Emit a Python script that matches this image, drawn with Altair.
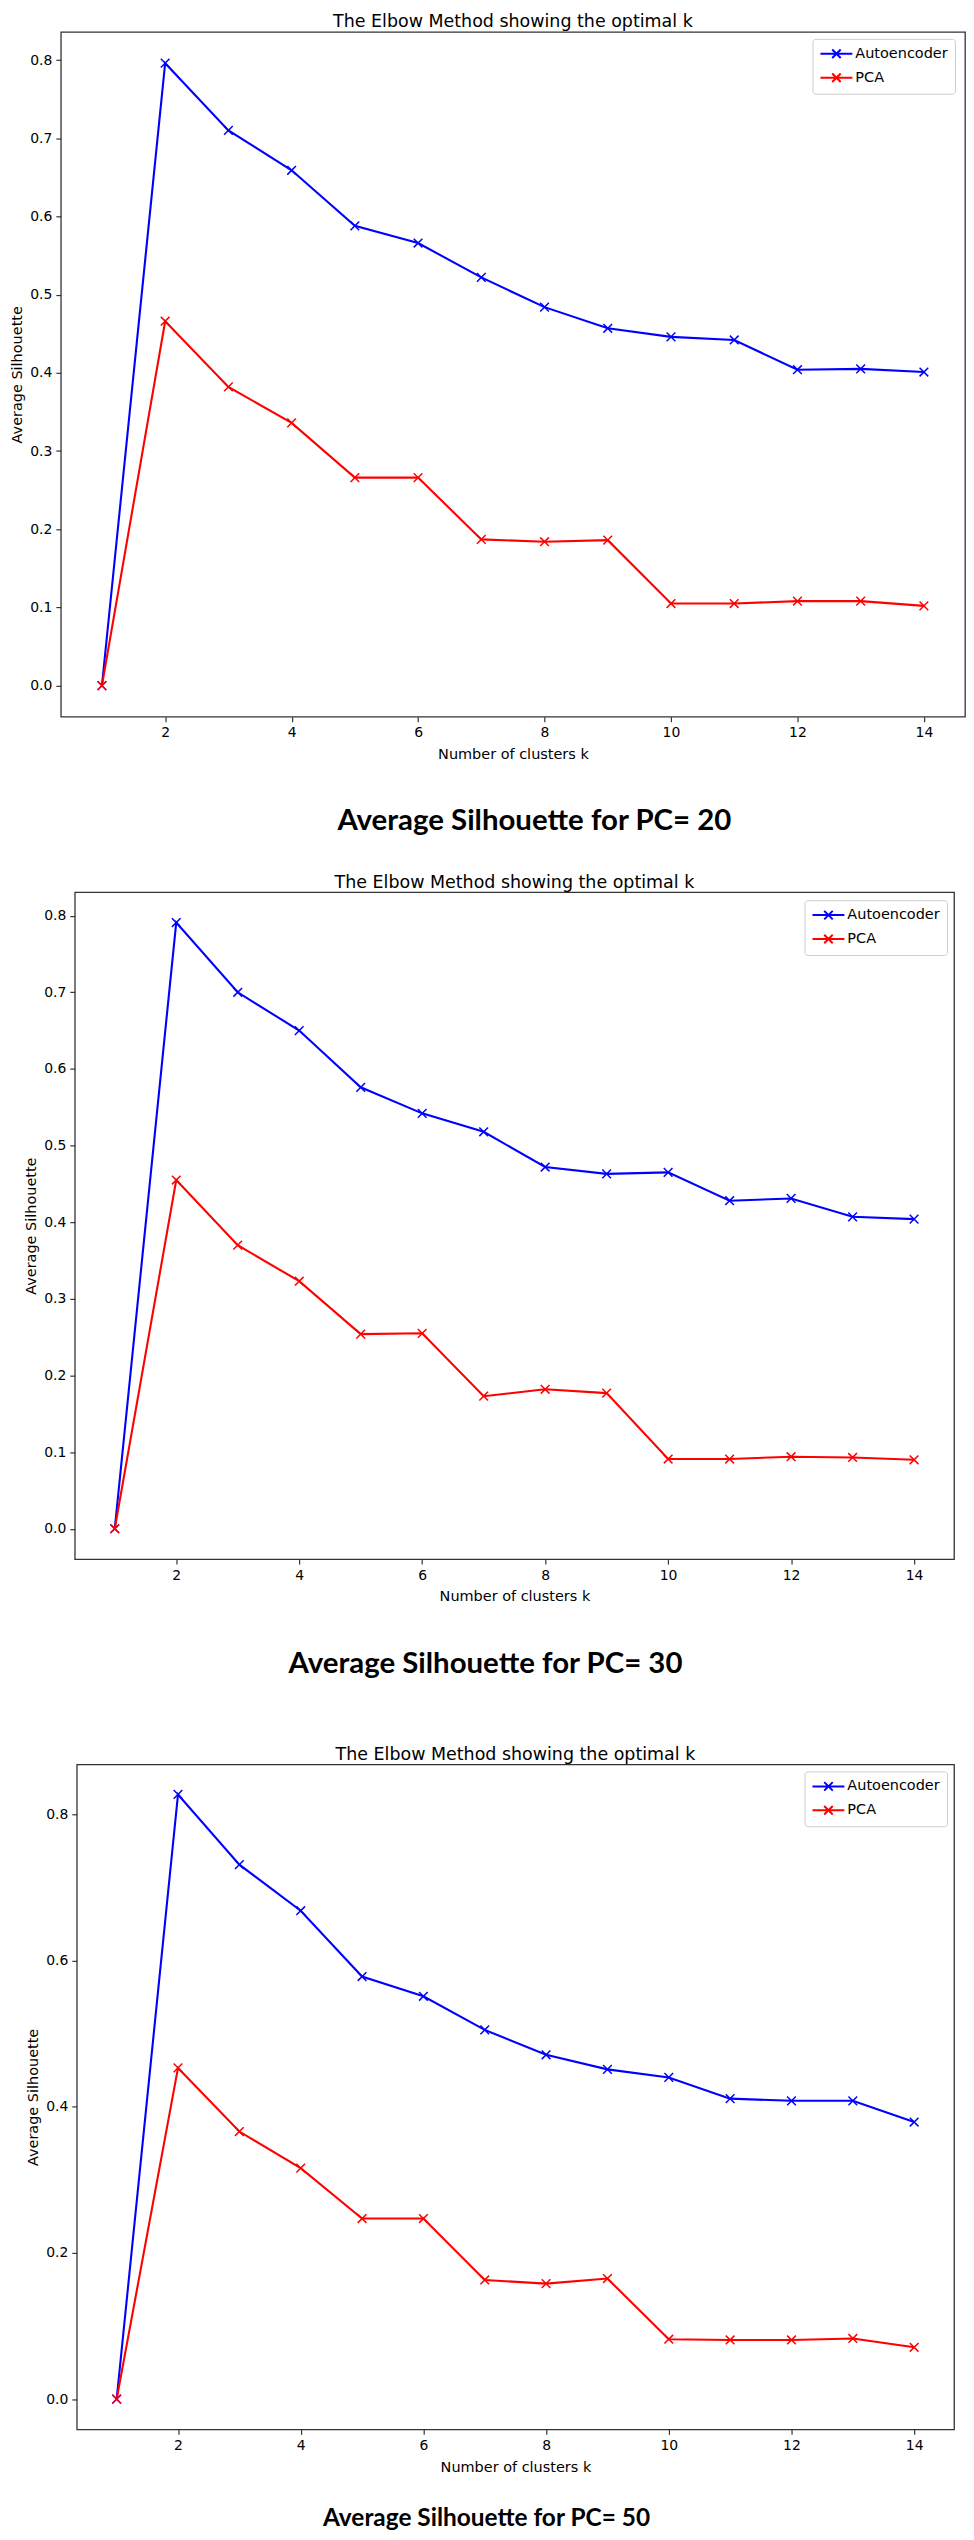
import altair as alt
import pandas as pd

K = list(range(1, 15))
SERIES = ["Autoencoder", "PCA"]
COLORS = ["#0000ff", "#ff0000"]
X_TICKS = [2, 4, 6, 8, 10, 12, 14]
Y_TICKS_01 = [0.0, 0.1, 0.2, 0.3, 0.4, 0.5, 0.6, 0.7, 0.8]
Y_TICKS_02 = [0.0, 0.2, 0.4, 0.6, 0.8]

AE_20 = [0.0, 0.796, 0.710, 0.659, 0.588, 0.566, 0.522, 0.484, 0.457, 0.446, 0.442, 0.404, 0.405, 0.401]
PCA_20 = [0.0, 0.466, 0.382, 0.336, 0.266, 0.266, 0.187, 0.184, 0.186, 0.105, 0.105, 0.108, 0.108, 0.102]
AE_30 = [0.0, 0.791, 0.700, 0.650, 0.576, 0.542, 0.518, 0.472, 0.463, 0.465, 0.428, 0.431, 0.407, 0.404]
PCA_30 = [0.0, 0.455, 0.370, 0.323, 0.254, 0.255, 0.173, 0.182, 0.177, 0.091, 0.091, 0.094, 0.093, 0.090]
AE_50 = [0.0, 0.827, 0.731, 0.668, 0.578, 0.551, 0.505, 0.471, 0.451, 0.440, 0.411, 0.408, 0.408, 0.379]
PCA_50 = [0.0, 0.453, 0.366, 0.316, 0.247, 0.247, 0.163, 0.158, 0.165, 0.082, 0.081, 0.081, 0.083, 0.071]

TITLE = "The Elbow Method showing the optimal k"
XTITLE = "Number of clusters k"
YTITLE = "Average Silhouette"
CAPTIONS = ["Average Silhouette for PC= 20", "Average Silhouette for PC= 30", "Average Silhouette for PC= 50"]

FONT = "DejaVu Sans"
X_MARK = "M-1,-1L1,1M-1,1L1,-1"
# legend glyph: a short line with an x marker in its middle
LEGEND_SYM = "M-1,0L3.57,0M0.68,-0.61L1.9,0.61M0.68,0.61L1.9,-0.61"


def panel(ae, pca, ymin, ymax, yticks, w, h, lx, ly):
    df = pd.DataFrame({
        "k": K + K,
        "score": ae + pca,
        "series": [SERIES[0]] * len(K) + [SERIES[1]] * len(K),
    })
    x = alt.X("k:Q", scale=alt.Scale(domain=[0.35, 14.65], nice=False, zero=False),
              axis=alt.Axis(values=X_TICKS, format="d", title=XTITLE))
    y = alt.Y("score:Q", scale=alt.Scale(domain=[ymin, ymax], nice=False, zero=False),
              axis=alt.Axis(values=yticks, format=".1f", title=YTITLE, titlePadding=5))
    color = alt.Color("series:N", scale=alt.Scale(domain=SERIES, range=COLORS),
                      legend=alt.Legend(title=None, orient="none", legendX=lx, legendY=ly,
                                        symbolType=LEGEND_SYM, symbolSize=196,
                                        symbolStrokeWidth=2, labelFont=FONT,
                                        labelFontSize=14.5, labelColor="black",
                                        labelOffset=20, fillColor="white",
                                        strokeColor="#cccccc", cornerRadius=3,
                                        padding=7, rowPadding=6))
    base = alt.Chart(df)
    lines = base.mark_line(strokeWidth=2.1).encode(x=x, y=y, color=color)
    pts = base.mark_point(shape=X_MARK, size=76, strokeWidth=1.5, filled=False,
                          opacity=1).encode(x=x, y=y, color=color)
    return alt.layer(lines, pts).properties(
        width=w, height=h,
        title=alt.TitleParams(TITLE, offset=1, anchor="middle"))


def spacer(w):
    return alt.Chart(pd.DataFrame({"s": [0]})).mark_point(size=1, opacity=0).encode(
        x=alt.value(0.5), y=alt.value(0.5)
    ).properties(width=w, height=1, view=alt.ViewBackground(strokeOpacity=0))


def caption(text, size, cx, cy, h):
    return alt.Chart(pd.DataFrame({"t": [text]})).mark_text(
        font="Lato", fontWeight="bold", fontSize=size, align="center",
        baseline="middle", color="black"
    ).encode(
        text="t:N", x=alt.value(cx), y=alt.value(cy)
    ).properties(width=900, height=h, view=alt.ViewBackground(strokeOpacity=0))


p1 = panel(AE_20, PCA_20, -0.0398, 0.836, Y_TICKS_01, 907, 687, 754, 7)
p2 = panel(AE_30, PCA_30, -0.0396, 0.8306, Y_TICKS_01, 882, 669, 732, 8)
p3 = panel(AE_50, PCA_50, -0.0413, 0.868, Y_TICKS_02, 880, 667, 730, 7)

INDEP = dict(color="independent", x="independent", y="independent")
row1 = alt.hconcat(spacer(1), p1, spacing=0).resolve_scale(**INDEP)
row2 = alt.hconcat(spacer(15), p2, spacing=0).resolve_scale(**INDEP)
row3 = alt.hconcat(spacer(17), p3, spacing=0).resolve_scale(**INDEP)

c1 = caption(CAPTIONS[0], 29.5, 528, 59, 110)
c2 = caption(CAPTIONS[1], 29.5, 479, 59, 140)
c3 = caption(CAPTIONS[2], 24.5, 480, 44, 56)

chart = alt.vconcat(row1, c1, row2, c2, row3, c3, spacing=0).resolve_scale(
    **INDEP
).properties(
    padding=0
).configure_view(
    stroke="#333333", strokeWidth=1.3
).configure_axis(
    domain=False, grid=False, tickColor="#333333", tickSize=5, tickWidth=1.2,
    labelFont=FONT, labelFontSize=14, labelColor="black", labelPadding=4,
    titleFont=FONT, titleFontSize=14.5, titleFontWeight="normal", titleColor="black"
).configure_axisX(titlePadding=8).configure_title(
    font=FONT, fontSize=17.5, fontWeight="normal", color="black"
)

chart.save("out.html", embed_options={"renderer": "svg", "actions": False})
